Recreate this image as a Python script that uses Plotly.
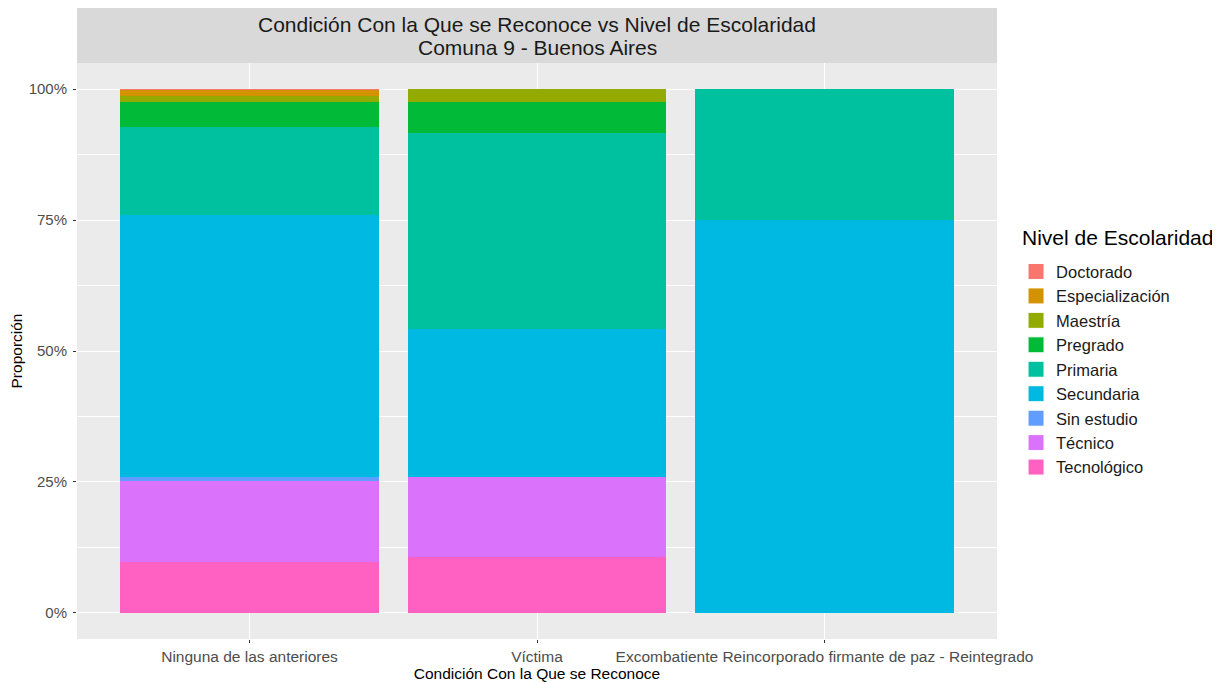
import plotly.graph_objects as go

categories = ["Ninguna de las anteriores", "Víctima",
              "Excombatiente Reincorporado firmante de paz - Reintegrado"]
levels = ["Doctorado", "Especialización", "Maestría", "Pregrado", "Primaria",
          "Secundaria", "Sin estudio", "Técnico", "Tecnológico"]
colors = ["#F8766D", "#D39200", "#93AA00", "#00BA38", "#00C19F",
          "#00B9E3", "#619CFF", "#DB72FB", "#FF61C3"]

# proportions (%) per category, in the order of `levels`
doctorado = [0.05, 0.0, 0.0]
especializacion = [1.2, 0.0, 0.0]
maestria = [1.15, 2.4, 0.0]
pregrado = [4.9, 5.9, 0.0]
primaria = [16.8, 37.5, 25.0]
secundaria = [49.9, 28.2, 75.0]
sin_estudio = [0.8, 0.0, 0.0]
tecnico = [15.5, 15.3, 0.0]
tecnologico = [9.7, 10.7, 0.0]

series = [doctorado, especializacion, maestria, pregrado, primaria,
          secundaria, sin_estudio, tecnico, tecnologico]

yticks = [0, 0.25, 0.5, 0.75, 1.0]
yticktext = ["0%", "25%", "50%", "75%", "100%"]

title_lines = ["Condición Con la Que se Reconoce vs Nivel de Escolaridad",
               "Comuna 9 - Buenos Aires"]
legend_title = "Nivel de Escolaridad"

fig = go.Figure()
# ggplot stacks the first level on top: add in reverse so plotly stacks bottom-up
for name, vals, col in reversed(list(zip(levels, series, colors))):
    fig.add_trace(go.Bar(
        x=categories, y=[v / 100 for v in vals], name=name,
        legendgroup=name, showlegend=False,
        marker=dict(color=col, line=dict(width=0)),
    ))
# legend keys (larger squares, ggplot-like)
for name, col in zip(levels, colors):
    fig.add_trace(go.Scatter(
        x=[None], y=[None], mode="markers", name=name, legendgroup=name,
        marker=dict(symbol="square", size=16, color=col,
                    line=dict(color="white", width=1)),
        showlegend=True, hoverinfo="skip",
    ))

PH = 576  # panel height in px
fig.update_layout(
    barmode="stack", bargap=0.1,
    width=1212, height=674,
    margin=dict(l=69, r=223, t=55, b=43, autoexpand=False),
    paper_bgcolor="white", plot_bgcolor="#EBEBEB",
    font=dict(family="Liberation Sans, Arial, sans-serif", color="#1A1A1A"),
    showlegend=True,
    legend=dict(
        traceorder="normal", x=1.0207, xanchor="left", y=0.668, yanchor="top",
        font=dict(size=16.5, color="#1A1A1A"), bgcolor="rgba(0,0,0,0)",
        itemsizing="trace", tracegroupgap=0,
    ),
)

fig.update_xaxes(
    type="category", range=[-0.6, 2.6], automargin=False,
    showgrid=True, gridcolor="white", gridwidth=1.1,
    ticks="outside", ticklen=3, tickcolor="#333333",
    tickfont=dict(size=15.5, color="#4D4D4D"),
    title=dict(text="Condición Con la Que se Reconoce", font=dict(size=15.5, color="#000000"), standoff=2),
    zeroline=False, showline=False,
)
fig.update_yaxes(
    range=[-0.05, 1.05], tickvals=yticks, ticktext=yticktext, automargin=False,
    showgrid=True, gridcolor="white", gridwidth=1.1,
    minor=dict(tickvals=[0.125, 0.375, 0.625, 0.875], showgrid=True,
               gridcolor="white", gridwidth=0.5, ticks=""),
    ticks="outside", ticklen=3, tickcolor="#333333", ticklabelstandoff=3,
    tickfont=dict(size=15, color="#4D4D4D"),
    title=dict(text="Proporción", font=dict(size=15.5, color="#000000"), standoff=3),
    zeroline=False, showline=False,
)

# facet-style title strip
fig.add_shape(type="rect", xref="paper", yref="paper", x0=0, x1=1,
              y0=1, y1=1 + 55 / PH, fillcolor="#D9D9D9", line=dict(width=0), layer="below")
for line, dy in zip(title_lines, [38, 15]):
    fig.add_annotation(
        xref="paper", yref="paper", x=0.5, y=1 + dy / PH, showarrow=False,
        text=line, font=dict(size=21, color="#1A1A1A"), yanchor="middle",
    )
fig.add_annotation(
    xref="paper", yref="paper", x=1.025, y=(639 - 237) / PH, showarrow=False,
    text=legend_title, font=dict(size=21, color="#000000"),
    xanchor="left", yanchor="middle",
)

fig.write_html("out.html")
